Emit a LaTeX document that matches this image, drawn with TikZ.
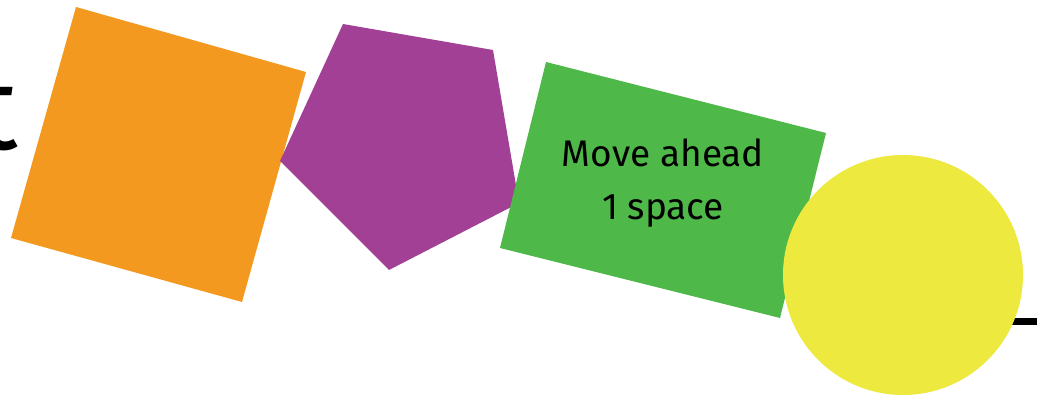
\documentclass[tikz,border=0pt]{standalone}
\usepackage{fontspec}
\setmainfont{Fira Sans}
\definecolor{cOrange}{HTML}{F4991F}
\definecolor{cPurple}{HTML}{A14095}
\definecolor{cGreen}{HTML}{4EB848}
\definecolor{cYellow}{HTML}{EDE93F}
\begin{document}
\begin{tikzpicture}[x=1pt,y=-1pt,
  shapefill/.style={fill=#1,draw=none},
  label/.style={font=\fontsize{37}{53}\selectfont,align=center,inner sep=0pt,text=black}]
\useasboundingbox (0,0) rectangle (1037,403);
\fill[white] (0,0) rectangle (1037,403);
% partial letter at the left edge
\node[font=\fontsize{118}{118}\selectfont,anchor=base west,inner sep=0pt] (tletter) at (-25,150) {t};
% square
\fill[shapefill=cOrange] (76,7) -- (306,72) -- (242,302) -- (11,238) -- cycle;
% pentagon
\fill[shapefill=cPurple] (343,24) -- (493,50) -- (519,203) -- (389,270) -- (280,161) -- cycle;
% rectangle
\fill[shapefill=cGreen] (546,62) -- (826,133) -- (780,318) -- (500,248) -- cycle;
\node[label,anchor=base] (txt) at (663,167) {Move ahead};
\node[label,anchor=base] (txt2) at (663,220) {1 space};
% line behind circle
\coordinate (cc) at (903,275);
\coordinate (lineend) at (1040,322);
\draw[line width=7pt] (903,322) -- (lineend);
% circle
\fill[shapefill=cYellow] (cc) circle[radius=120];
\end{tikzpicture}
\end{document}
